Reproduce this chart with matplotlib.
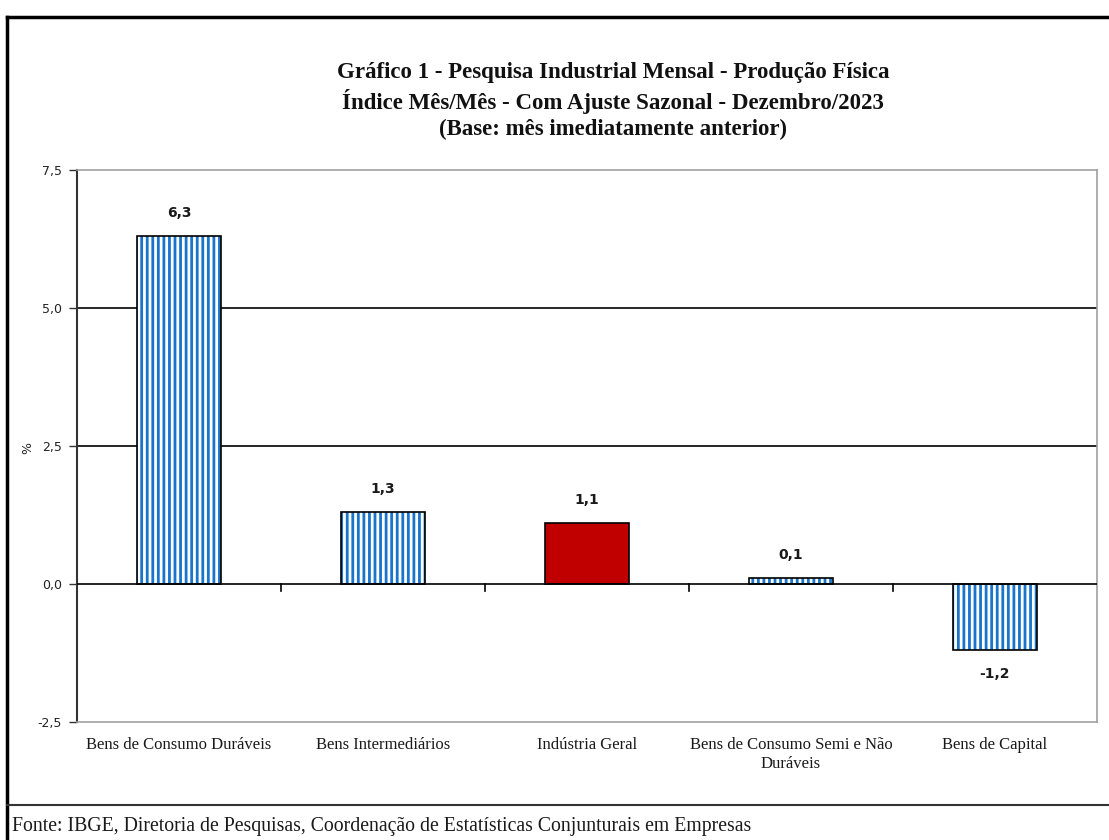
import numpy as np
import matplotlib.pyplot as plt
from matplotlib.lines import Line2D

# Dados do gráfico
categorias = ['Bens de Consumo Duráveis', 'Bens Intermediários', 'Indústria Geral',
              'Bens de Consumo Semi e Não\nDuráveis', 'Bens de Capital']
valores = [6.3, 1.3, 1.1, 0.1, -1.2]
rotulos = ['6,3', '1,3', '1,1', '0,1', '-1,2']
y_ticks = [-2.5, 0.0, 2.5, 5.0, 7.5]
y_tick_labels = ['-2,5', '0,0', '2,5', '5,0', '7,5']
destaque = 'Indústria Geral'

AZUL = '#1874cd'
VERMELHO = '#c00000'
SERIF = ['Liberation Serif', 'DejaVu Serif']

plt.rcParams['hatch.linewidth'] = 2.0

fig = plt.figure(figsize=(11.09, 8.4), dpi=100)
ax = fig.add_axes([77 / 1109, 118 / 840, 1020 / 1109, 552 / 840])

x = np.arange(len(categorias))
largura = 0.41

for i, (cat, v) in enumerate(zip(categorias, valores)):
    if cat == destaque:
        ax.bar(i, v, largura, color=VERMELHO, edgecolor='black', linewidth=1.2, zorder=3)
    else:
        # listras verticais azuis + contorno preto
        ax.bar(i, v, largura, color='white', edgecolor=AZUL, hatch='|||', linewidth=0, zorder=3)
        ax.bar(i, v, largura, fill=False, edgecolor='black', linewidth=1.2, zorder=4)
    if v >= 0:
        ax.text(i, v + 0.3, rotulos[i], ha='center', va='bottom', fontsize=10,
                fontweight='bold', family='DejaVu Sans', color='#1a1a1a')
    else:
        ax.text(i, v - 0.3, rotulos[i], ha='center', va='top', fontsize=10,
                fontweight='bold', family='DejaVu Sans', color='#1a1a1a')

ax.set_xlim(-0.5, len(categorias) - 0.5)
ax.set_ylim(-2.5, 7.5)
ax.set_yticks(y_ticks)
ax.set_yticklabels(y_tick_labels, family='DejaVu Sans', fontsize=9, color='#222222')
ax.tick_params(axis='y', length=6, width=1, color='#333333', direction='out', pad=5)
ax.set_xticks([])

# grade horizontal
for g in [2.5, 5.0]:
    ax.axhline(g, color='black', linewidth=1.2, zorder=1)
ax.axhline(0, color='black', linewidth=1.2, zorder=5)

# marcas do eixo x sobre a linha zero
for b in np.arange(0.5, len(categorias) - 0.5, 1.0):
    ax.plot([b, b], [0, -0.12], color='black', linewidth=1.2, zorder=5, clip_on=False)

for s in ['top', 'right', 'bottom']:
    ax.spines[s].set_color('#a0a0a0')
    ax.spines[s].set_linewidth(1.2)
ax.spines['left'].set_color('#333333')
ax.spines['left'].set_linewidth(1.5)

# rótulos das categorias
for i, cat in enumerate(categorias):
    ax.text(i, -2.78, cat, ha='center', va='top', fontsize=12, family=SERIF,
            color='#1a1a1a', linespacing=1.25)

fig.text(28 / 1109, 1 - 448 / 840, '%', rotation=90, ha='center', va='center',
         fontsize=9, family='DejaVu Sans', color='#222222')

titulo = ('Gráfico 1 - Pesquisa Industrial Mensal - Produção Física\n'
          'Índice Mês/Mês - Com Ajuste Sazonal - Dezembro/2023\n'
          '(Base: mês imediatamente anterior)')
fig.text(613 / 1109, 1 - 101 / 840, titulo, ha='center', va='center', fontsize=16.5,
         fontweight='bold', family=SERIF, color='#111111', linespacing=1.3)

fig.text(12 / 1109, 1 - 826 / 840, 'Fonte: IBGE, Diretoria de Pesquisas, Coordenação de Estatísticas Conjunturais em Empresas',
         ha='left', va='center', fontsize=14.2, family=SERIF, color='#1a1a1a')

# moldura externa e separador da fonte
fig.add_artist(Line2D([7 / 1109, 1], [1 - 17 / 840, 1 - 17 / 840], color='black', linewidth=2.5))
fig.add_artist(Line2D([7 / 1109, 7 / 1109], [0, 1 - 17 / 840], color='black', linewidth=2.5))
fig.add_artist(Line2D([7 / 1109, 1], [1 - 805 / 840, 1 - 805 / 840], color='#333333', linewidth=1.5))

fig.savefig('out.png', dpi=100)
